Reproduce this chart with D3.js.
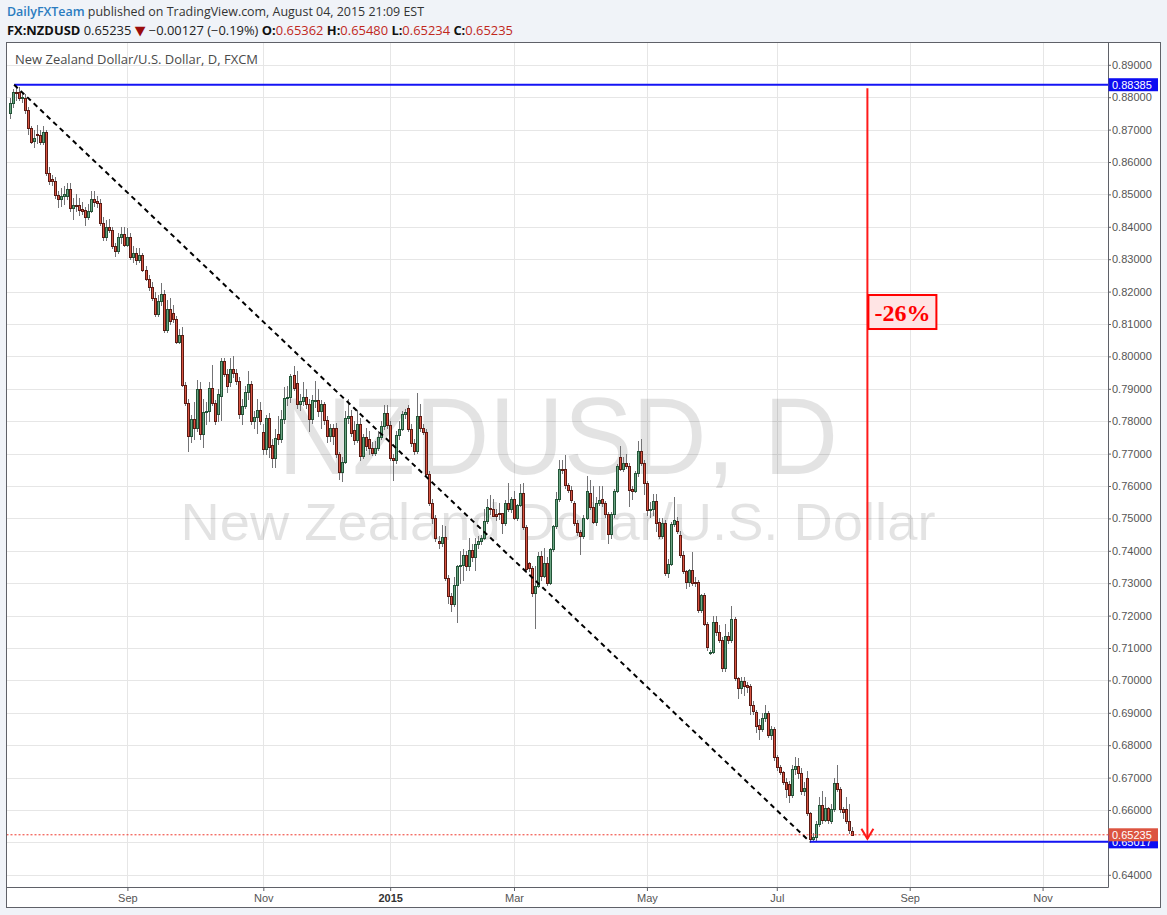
<!DOCTYPE html>
<html><head><meta charset="utf-8">
<script src="https://cdn.jsdelivr.net/npm/d3@7/dist/d3.min.js"></script>
<style>
html,body{margin:0;padding:0;background:#f0f3f8;}
svg{display:block;}
text{white-space:pre;}
</style></head><body>
<svg id="c" width="1167" height="915"></svg>
<script>
// ---------- DATA (NZDUSD daily, FXCM) ----------
const open=[
.8751,.8781,.8815,.8815,.8797,.8797,.8761,.8704,.8664,.8686,
.8683,.8661,.8692,.8566,.8547,.8540,.8499,.8487,.8494,.8494,
.8516,.8458,.8468,.8468,.8455,.8453,.8430,.8450,.8487,.8480,
.8473,.8412,.8368,.8399,.8389,.8340,.8326,.8368,.8378,.8345,
.8370,.8308,.8318,.8298,.8314,.8268,.8240,.8214,.8180,.8131,
.8170,.8194,.8080,.8145,.8135,.8115,.8044,.8067,.7913,.7857,
.7754,.7806,.7780,.7898,.7762,.7829,.7830,.7903,.7857,.7821,
.7877,.7985,.7946,.7922,.7962,.7950,.7924,.7821,.7847,.7891,
.7915,.7801,.7812,.7836,.7768,.7713,.7809,.7726,.7687,.7762,
.7744,.7806,.7872,.7874,.7942,.7918,.7852,.7862,.7875,.7852,
.7806,.7864,.7865,.7831,.7854,.7803,.7754,.7778,.7778,.7700,
.7644,.7675,.7809,.7815,.7772,.7741,.7792,.7692,.7751,.7745,
.7718,.7703,.7717,.7751,.7784,.7826,.7788,.7686,.7680,.7756,
.7775,.7821,.7842,.7775,.7734,.7708,.7816,.7778,.7768,.7636,.7549,
.7500,.7431,.7424,.7444,.7315,.7259,.7237,.7294,.7352,.7356,
.7387,.7352,.7403,.7382,.7420,.7431,.7440,.7493,.7533,.7530,
.7513,.7518,.7516,.7487,.7549,.7528,.7559,.7502,.7540,.7577,
.7472,.7362,.7346,.7269,.7292,.7384,.7323,.7362,.7302,.7405,
.7475,.7561,.7651,.7651,.7602,.7588,.7549,.7487,.7458,.7446,
.7502,.7577,.7536,.7489,.7549,.7559,.7549,.7513,.7451,.7513,
.7585,.7690,.7654,.7670,.7662,.7590,.7585,.7639,.7708,
.7672,.7610,.7526,.7530,.7554,.7489,.7446,.7487,.7331,.7359,
.7482,.7492,.7448,.7386,.7338,.7304,.7341,.7305,.7305,.7218,
.7263,.7174,.7086,.7088,.7179,.7148,.7126,.7037,.7138,.7126,
.7191,.7006,.6978,.6997,.6985,.6982,.6925,.6904,.6862,.6850,
.6883,.6899,.6832,.6850,.6763,.6732,.6717,.6686,.6680,.6647,
.6727,.6735,.6715,.6660,.6700,.6590,.6511,.6516,.6557,.6616,
.6570,.6605,.6565,.6604,.6683,.6665,.6602,.6603,.6565,.65362];
const high=[
.8799,.8826,.88385,.8830,.8815,.8810,.8770,.8712,.8700,.8715,
.8700,.8712,.8700,.8585,.8560,.8555,.8510,.8520,.8525,.8535,
.8535,.8490,.8500,.8490,.8475,.8460,.8470,.8510,.8510,.8495,
.8485,.8430,.8420,.8425,.8400,.8350,.8380,.8400,.8400,.8395,
.8380,.8340,.8335,.8335,.8320,.8280,.8250,.8230,.8200,.8190,
.8227,.8205,.8175,.8180,.8160,.8125,.8085,.8090,.7920,.7870,
.7820,.7860,.7928,.7920,.7870,.7860,.7920,.7972,.7865,.7900,
.7995,.7995,.7960,.7995,.8000,.7960,.7935,.7870,.7910,.7955,
.7925,.7830,.7870,.7860,.7790,.7820,.7825,.7745,.7775,.7815,
.7835,.7905,.7910,.7945,.7970,.7955,.7885,.7920,.7900,.7870,
.7880,.7925,.7900,.7865,.7860,.7815,.7790,.7790,.7795,.7705,
.7690,.7830,.7870,.7835,.7800,.7835,.7810,.7760,.7780,.7770,
.7735,.7740,.7770,.7800,.7850,.7850,.7800,.7700,.7770,.7800,
.7831,.7838,.7850,.7790,.7745,.7888,.7852,.7790,.7775,.7645,.7560,
.7510,.7445,.7480,.7475,.7325,.7270,.7320,.7355,.7400,.7405,
.7400,.7438,.7420,.7440,.7445,.7450,.7528,.7559,.7571,.7559,
.7530,.7549,.7518,.7556,.7610,.7565,.7585,.7545,.7605,.7610,
.7480,.7364,.7354,.7354,.7395,.7400,.7410,.7380,.7410,.7480,
.7580,.7680,.7680,.7695,.7610,.7600,.7555,.7495,.7465,.7510,
.7630,.7620,.7600,.7565,.7600,.7600,.7555,.7520,.7520,.7590,
.7668,.7723,.7690,.7700,.7670,.7600,.7645,.7740,.7744,
.7680,.7615,.7550,.7575,.7575,.7500,.7500,.7495,.7375,.7490,
.7565,.7505,.7460,.7400,.7340,.7345,.7395,.7320,.7310,.7268,
.7270,.7180,.7095,.7200,.7200,.7170,.7135,.7175,.7150,.7230,
.7195,.7010,.7010,.7010,.6995,.6990,.6935,.6910,.6880,.6900,
.6925,.6905,.6860,.6855,.6770,.6740,.6720,.6700,.6690,.6740,
.6765,.6760,.6730,.6685,.6720,.6595,.6530,.6565,.6640,.6660,
.6640,.6610,.6620,.6700,.6739,.6670,.6610,.6640,.6618,.65480];
const low=[
.8735,.8770,.8790,.8790,.8785,.8750,.8686,.8658,.8645,.8660,
.8655,.8655,.8560,.8532,.8530,.8490,.8460,.8465,.8470,.8485,
.8450,.8425,.8450,.8435,.8440,.8405,.8425,.8445,.8465,.8460,
.8405,.8360,.8360,.8385,.8335,.8310,.8320,.8350,.8340,.8340,
.8300,.8290,.8285,.8290,.8265,.8235,.8205,.8175,.8125,.8125,
.8160,.8075,.8075,.8100,.8105,.8040,.8040,.7910,.7850,.7708,
.7735,.7745,.7770,.7745,.7720,.7790,.7800,.7850,.7790,.7800,
.7805,.7940,.7890,.7910,.7935,.7915,.7810,.7790,.7840,.7870,
.7790,.7780,.7765,.7790,.7700,.7700,.7690,.7660,.7660,.7730,
.7735,.7795,.7850,.7860,.7895,.7840,.7835,.7850,.7840,.7770,
.7795,.7845,.7815,.7780,.7790,.7737,.7740,.7730,.7690,.7621,
.7615,.7670,.7795,.7755,.7730,.7735,.7680,.7685,.7710,.7700,
.7695,.7695,.7710,.7745,.7775,.7780,.7680,.7618,.7670,.7745,
.7772,.7810,.7770,.7725,.7698,.7703,.7770,.7760,.7630,.7540,.7485,
.7430,.7410,.7415,.7310,.7240,.7215,.7230,.7179,.7300,.7310,
.7340,.7340,.7370,.7340,.7410,.7420,.7435,.7487,.7513,.7506,
.7495,.7497,.7456,.7480,.7523,.7520,.7499,.7495,.7538,.7466,
.7335,.7338,.7261,.7163,.7287,.7310,.7318,.7295,.7297,.7398,
.7470,.7555,.7640,.7595,.7580,.7550,.7480,.7450,.7389,.7440,
.7497,.7530,.7485,.7480,.7540,.7538,.7505,.7425,.7440,.7505,
.7580,.7650,.7645,.7655,.7538,.7560,.7580,.7630,.7665,
.7575,.7510,.7505,.7510,.7460,.7440,.7440,.7325,.7320,.7355,
.7475,.7455,.7380,.7330,.7285,.7290,.7295,.7290,.7210,.7210,
.7170,.7095,.7080,.7085,.7140,.7120,.7030,.7030,.7115,.7120,
.7000,.6945,.6960,.6955,.6965,.6895,.6895,.6840,.6820,.6845,
.6875,.6825,.6820,.6755,.6725,.6710,.6680,.6640,.6625,.6640,
.6710,.6700,.6650,.6645,.6585,.65017,.6503,.6508,.6550,.6560,
.6565,.6560,.6560,.6598,.6658,.6595,.6575,.6560,.6530,.65234];
const close=[
.8781,.8815,.8812,.8797,.8800,.8761,.8704,.8663,.8673,.8682,
.8661,.8692,.8566,.8540,.8540,.8499,.8487,.8494,.8502,.8516,
.8458,.8468,.8466,.8453,.8450,.8430,.8450,.8487,.8476,.8473,
.8412,.8368,.8399,.8391,.8340,.8326,.8368,.8378,.8345,.8370,
.8308,.8318,.8298,.8314,.8268,.8240,.8214,.8180,.8131,.8170,
.8194,.8080,.8145,.8110,.8115,.8044,.8067,.7913,.7857,.7754,
.7806,.7780,.7898,.7762,.7829,.7830,.7903,.7857,.7802,.7885,
.7985,.7946,.7908,.7962,.7950,.7924,.7821,.7847,.7891,.7915,
.7801,.7812,.7836,.7800,.7713,.7809,.7720,.7687,.7747,.7744,
.7806,.7872,.7874,.7940,.7903,.7852,.7862,.7875,.7852,.7806,
.7864,.7866,.7831,.7854,.7803,.7754,.7778,.7754,.7700,.7644,
.7675,.7809,.7815,.7765,.7741,.7792,.7692,.7751,.7723,.7718,
.7703,.7717,.7751,.7784,.7826,.7788,.7686,.7680,.7756,.7775,
.7821,.7828,.7775,.7734,.7708,.7816,.7778,.7768,.7636,.7549,.7500,
.7438,.7423,.7444,.7315,.7259,.7237,.7294,.7352,.7356,.7387,
.7352,.7403,.7382,.7420,.7431,.7440,.7493,.7536,.7528,.7508,
.7508,.7513,.7487,.7549,.7528,.7559,.7502,.7540,.7577,.7472,
.7343,.7346,.7269,.7292,.7384,.7323,.7362,.7302,.7405,.7475,
.7561,.7651,.7649,.7602,.7588,.7557,.7487,.7458,.7446,.7502,
.7585,.7536,.7489,.7549,.7557,.7549,.7513,.7451,.7513,.7585,
.7662,.7654,.7672,.7662,.7588,.7585,.7639,.7708,.7672,
.7610,.7526,.7530,.7554,.7487,.7446,.7487,.7331,.7359,.7482,
.7495,.7461,.7386,.7338,.7304,.7341,.7302,.7302,.7218,.7263,
.7174,.7102,.7088,.7179,.7148,.7126,.7037,.7138,.7126,.7191,
.7006,.6978,.6997,.6982,.6980,.6925,.6907,.6860,.6850,.6883,
.6899,.6832,.6850,.6763,.6732,.6717,.6686,.6664,.6647,.6727,
.6735,.6715,.6660,.6668,.6590,.6511,.6516,.6557,.6616,.6568,
.6605,.6570,.6604,.6683,.6665,.6602,.6594,.6565,.6537,.65235];

const startDate="2014-07-08";
const holidays=["2014-12-25","2015-01-01"];
const tickMonths=["2014-09","2014-11","2015-01","2015-03","2015-05","2015-07","2015-09","2015-11"];
const tickLabels=["Sep","Nov","2015","Mar","May","Jul","Sep","Nov"];
const priceTicks=[0.64,0.65,0.66,0.67,0.68,0.69,0.70,0.71,0.72,0.73,0.74,0.75,0.76,0.77,0.78,0.79,0.80,0.81,0.82,0.83,0.84,0.85,0.86,0.87,0.88,0.89];
const arrowIndex=[284];
const arrowValues=[0.8828,0.6511];
const noteValue=[0.8137];
const noteText=["-26%"];
const headerLine1=["DailyFXTeam"," published on TradingView.com, August 04, 2015 21:09 EST"];
const headerLine2=["FX:NZDUSD"," 0.65235 ","\u25BC"," \u22120.00127 (\u22120.19%) ","O:","0.65362"," H:","0.65480"," L:","0.65234"," C:","0.65235"];
const chartTitle="New Zealand Dollar/U.S. Dollar, D, FXCM";
const watermark=["NZDUSD, D","New Zealand Dollar/U.S. Dollar"];

// ---------- LAYOUT ----------
const n=open.length;
const svg=d3.select("#c");
const PL=6.5,PT=42.5,PR=1108.5,PB=887.5,OR=1160.5,OB=907.5;
const x=d3.scaleLinear().domain([0,n-1]).range([9.6,852.3]);
const y=d3.scaleLinear().domain([0.64,0.89]).range([874.8,64.8]);

// dates (weekday bars) for month ticks
const parse=d3.timeParse("%Y-%m-%d"), fmt=d3.timeFormat("%Y-%m-%d");
const dates=[];
for(let d=parse(startDate); dates.length<n+120; d=d3.timeDay.offset(d,1)){
  const w=d.getDay(), s=fmt(d);
  if(w!==0&&w!==6&&!holidays.includes(s)) dates.push(s);
}
const tickIdx=tickMonths.map(m=>dates.findIndex(s=>s.startsWith(m)));

const FONT="'Liberation Sans',Arial,sans-serif";

// panel
svg.append("rect").attr("x",PL).attr("y",PT).attr("width",OR-PL).attr("height",OB-PT)
  .attr("fill","#fff").attr("stroke","#5f6168").attr("stroke-width",1);

svg.append("defs").append("clipPath").attr("id","clip").append("rect")
  .attr("x",PL+0.5).attr("y",PT+0.5).attr("width",PR-PL-1).attr("height",PB-PT-1);

// grid
const grid=svg.append("g").attr("shape-rendering","crispEdges");
grid.selectAll("line.h").data(priceTicks).join("line")
  .attr("x1",PL+0.5).attr("x2",PR).attr("y1",d=>Math.round(y(d))+0.5).attr("y2",d=>Math.round(y(d))+0.5)
  .attr("stroke","#e6e6e6");
grid.selectAll("line.v").data(tickIdx).join("line")
  .attr("y1",PT+0.5).attr("y2",PB).attr("x1",d=>Math.round(x(d))+0.5).attr("x2",d=>Math.round(x(d))+0.5)
  .attr("stroke","#e6e6e6");

// watermark
svg.append("text").attr("x",558).attr("y",474).attr("text-anchor","middle")
  .attr("font-family",FONT).attr("font-size",110).attr("fill","rgba(0,0,0,0.11)")
  .attr("textLength",560).attr("lengthAdjust","spacingAndGlyphs").text(watermark[0]);
svg.append("text").attr("x",558).attr("y",540).attr("text-anchor","middle")
  .attr("font-family",FONT).attr("font-size",52).attr("fill","rgba(0,0,0,0.11)")
  .attr("textLength",755).attr("lengthAdjust","spacingAndGlyphs").text(watermark[1]);

// title
svg.append("text").attr("x",15).attr("y",64).attr("font-family","'Open Sans',sans-serif")
  .attr("font-size",12).attr("fill","#4a4a4a").attr("textLength",243).attr("lengthAdjust","spacingAndGlyphs")
  .text(chartTitle);

// candles
const cg=svg.append("g").attr("clip-path","url(#clip)");
const idx=d3.range(n);
const cx=i=>Math.round(x(i));
cg.append("g").attr("shape-rendering","crispEdges").selectAll("line").data(idx).join("line")
  .attr("x1",i=>cx(i)+0.5).attr("x2",i=>cx(i)+0.5)
  .attr("y1",i=>Math.round(y(high[i]))).attr("y2",i=>Math.round(y(low[i]))+1)
  .attr("stroke","#737375").attr("stroke-width",1);
cg.append("g").attr("shape-rendering","crispEdges").selectAll("rect").data(idx).join("rect")
  .attr("x",i=>cx(i)-0.5)
  .attr("y",i=>Math.round(y(Math.max(open[i],close[i])))+0.5)
  .attr("width",2)
  .attr("height",i=>Math.max(1,Math.round(y(Math.min(open[i],close[i])))-Math.round(y(Math.max(open[i],close[i])))))
  .attr("fill",i=>close[i]>=open[i]?"#6ba583":"#d75442")
  .attr("stroke",i=>close[i]>=open[i]?"#225437":"#5b1a13").attr("stroke-width",1);

// drawings
const hiIdx=d3.maxIndex(high), loIdx=d3.minIndex(low);
const hiVal=high[hiIdx], loVal=low[loIdx], lastVal=close[n-1];
const dg=svg.append("g").attr("clip-path","url(#clip)");
dg.append("line").attr("x1",PL).attr("x2",PR).attr("y1",y(lastVal)).attr("y2",y(lastVal))
  .attr("stroke","#f0362b").attr("stroke-width",1).attr("stroke-dasharray","2,2");
dg.append("line").attr("x1",x(hiIdx)-1.5).attr("x2",PR).attr("y1",y(hiVal)).attr("y2",y(hiVal))
  .attr("stroke","#1414f5").attr("stroke-width",2);
dg.append("line").attr("x1",x(loIdx)).attr("x2",PR).attr("y1",y(loVal)).attr("y2",y(loVal))
  .attr("stroke","#1414f5").attr("stroke-width",2);
dg.append("line").attr("x1",x(hiIdx)-1.5).attr("y1",y(hiVal)).attr("x2",x(loIdx)).attr("y2",y(loVal))
  .attr("stroke","#000").attr("stroke-width",2).attr("stroke-dasharray","5,4");
// arrow
const ax=x(arrowIndex[0]);
dg.append("line").attr("x1",ax).attr("x2",ax).attr("y1",y(arrowValues[0])).attr("y2",y(arrowValues[1]))
  .attr("stroke","#ff1a1a").attr("stroke-width",2);
dg.append("path").attr("d",`M${ax-6},${y(arrowValues[1])-10}L${ax},${y(arrowValues[1])}L${ax+6},${y(arrowValues[1])-10}`)
  .attr("fill","none").attr("stroke","#ff1a1a").attr("stroke-width",2);
// note box
const ny=y(noteValue[0]);
dg.append("rect").attr("x",ax+1).attr("y",ny-17).attr("width",68).attr("height",34)
  .attr("fill","#ffe4e4").attr("stroke","#ff0000").attr("stroke-width",2);
dg.append("text").attr("x",ax+35).attr("y",ny+9).attr("text-anchor","middle")
  .attr("font-family","'Liberation Serif','Times New Roman',serif").attr("font-weight","bold")
  .attr("font-size",24).attr("fill","#ff0000").text(noteText[0]);

// axes lines
svg.append("line").attr("x1",PR).attr("x2",PR).attr("y1",PT).attr("y2",PB).attr("stroke","#5f6168");
svg.append("line").attr("x1",PL).attr("x2",PR).attr("y1",PB).attr("y2",PB).attr("stroke","#5f6168");

// y axis
const yAx=svg.append("g").attr("transform",`translate(${PR-0.5},0)`)
  .call(d3.axisRight(y).tickValues(priceTicks).tickSize(3).tickSizeOuter(0).tickPadding(1).tickFormat(d3.format(".5f")));
yAx.select(".domain").remove();
yAx.selectAll("line").attr("stroke","#5f6168");
yAx.selectAll("text").attr("font-family",FONT).attr("font-size",11).attr("fill","#555");

// x axis
const xAx=svg.append("g").attr("transform",`translate(0,${PB-0.5})`)
  .call(d3.axisBottom(x).tickValues(tickIdx).tickSize(4).tickSizeOuter(0).tickPadding(3).tickFormat((d,i)=>tickLabels[i]));
xAx.select(".domain").remove();
xAx.selectAll("line").attr("stroke","#5f6168");
xAx.selectAll("text").attr("font-family",FONT).attr("font-size",11)
  .attr("font-weight",(d,i)=>tickLabels[i]==="2015"?"bold":"normal")
  .attr("fill",(d,i)=>tickLabels[i]==="2015"?"#333":"#555");

// price labels (the low tag sits partly under the last-price tag, as in the original)
const fmt5=d3.format(".5f");
function priceTag(v,color){
  const g=svg.append("g");
  g.append("rect").attr("x",PR).attr("y",y(v)-6.5).attr("width",49.5).attr("height",13).attr("fill",color);
  g.append("text").attr("x",PR+3.5).attr("y",y(v)+4).attr("font-family",FONT).attr("font-size",11)
    .attr("fill","#fff").text(fmt5(v));
}
priceTag(hiVal,"#0d0df2");
priceTag(loVal,"#0d0df2");
priceTag(lastVal,"#dc5440");

// header
const h1=svg.append("text").attr("x",7).attr("y",16).attr("font-family","'Open Sans',sans-serif").attr("font-size",12)
  .attr("textLength",417).attr("lengthAdjust","spacingAndGlyphs");
h1.append("tspan").attr("fill","#2b7cc0").attr("font-weight","600").text(headerLine1[0]);
h1.append("tspan").attr("fill","#333").text(headerLine1[1]);
const h2=svg.append("text").attr("x",7).attr("y",35).attr("font-family","'Open Sans',sans-serif").attr("font-size",12)
  .attr("textLength",506).attr("lengthAdjust","spacingAndGlyphs");
const h2style=[["#111","bold"],["#222","normal"],["#9b0d0d","normal"],["#222","normal"],["#111","bold"],["#c0281c","normal"],
  ["#111","bold"],["#c0281c","normal"],["#111","bold"],["#c0281c","normal"],["#111","bold"],["#c0281c","normal"]];
headerLine2.forEach((t,i)=>h2.append("tspan").attr("fill",h2style[i][0]).attr("font-weight",h2style[i][1])
  .attr("font-family",i===2?"'DejaVu Sans',sans-serif":null)
  .attr("font-size",i===2?13:12).text(t));
</script>
</body></html>
